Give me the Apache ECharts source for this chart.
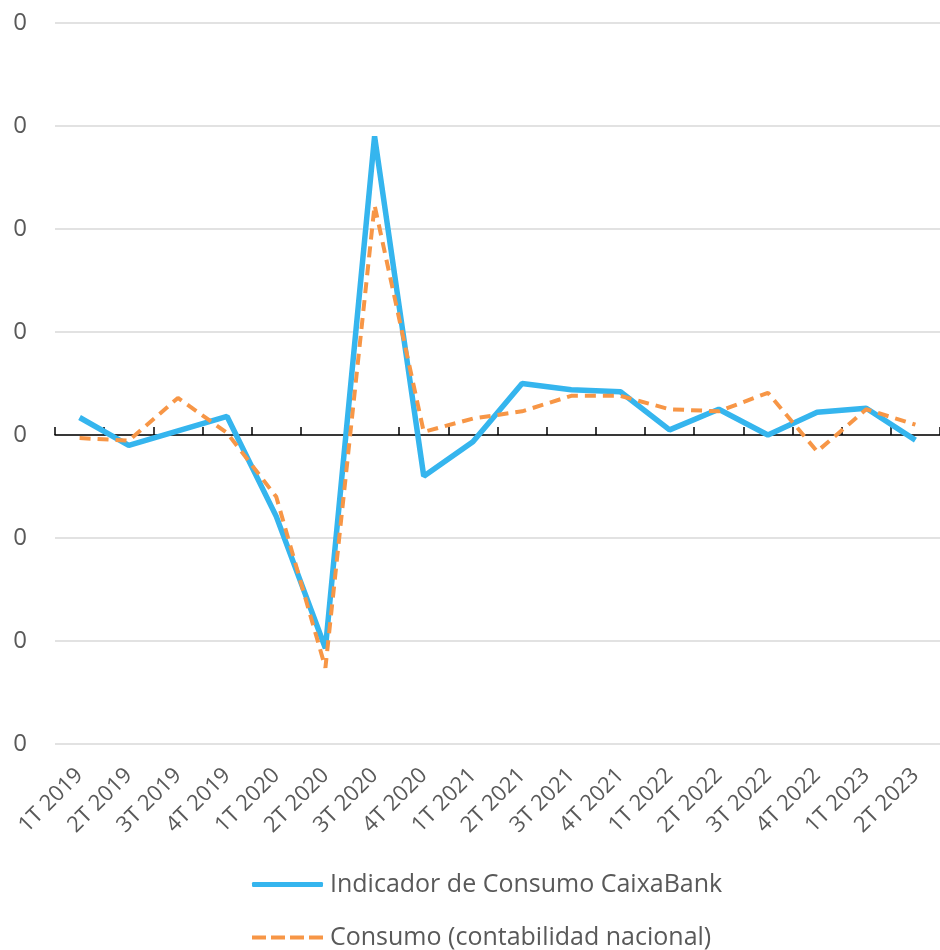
<!DOCTYPE html>
<html lang="es">
<head>
    <meta charset="UTF-8">
    <title>Indicador de Consumo CaixaBank</title>
    <script type="text/javascript" src="https://cdn.jsdelivr.net/npm/echarts@6/dist/echarts.min.js"></script>
    <style type="text/css">
        html, body { margin: 0; padding: 0; background: #fff; }
        #chart { width: 940px; height: 950px; }
    </style>
</head>
<body>
    <div id="chart"></div>
</body>
<script type="text/javascript">
    // trimestres
    var quarters = ['1T 2019', '2T 2019', '3T 2019', '4T 2019', '1T 2020', '2T 2020', '3T 2020', '4T 2020',
        '1T 2021', '2T 2021', '3T 2021', '4T 2021', '1T 2022', '2T 2022', '3T 2022', '4T 2022', '1T 2023', '2T 2023'];

    // variación intertrimestral
    var indicadorCaixa = [0.017, -0.010, 0.004, 0.018, -0.079, -0.207, 0.290, -0.040,
        -0.0065, 0.050, 0.044, 0.042, 0.005, 0.025, 0.000, 0.022, 0.026, -0.005];
    var consumoCN = [-0.003, -0.0055, 0.036, 0.002, -0.060, -0.226, 0.223, 0.003,
        0.016, 0.023, 0.038, 0.038, 0.025, 0.023, 0.041, -0.016, 0.025, 0.010];

    var seriesNames = ['Indicador de Consumo CaixaBank', 'Consumo (contabilidad nacional)'];

    var blue = '#35b5ee';
    var orange = '#f79646';

    var chart = echarts.init(document.getElementById('chart'));
    var font = '"Open Sans", sans-serif';

    var option = {
        animation: false,
        textStyle: { fontFamily: font },
        grid: { left: 55, right: -4, top: 23, bottom: 206 },
        legend: {
            orient: 'vertical',
            left: 252,
            top: 872,
            padding: 0,
            itemWidth: 71,
            itemHeight: 5,
            itemGap: 28,
            textStyle: { fontSize: 25, color: '#595959', fontFamily: font, padding: [0, 0, 0, 2] },
            data: [{
                name: seriesNames[0],
                icon: 'roundRect',
                itemStyle: { color: blue }
            }, {
                name: seriesNames[1],
                icon: 'path://M0,0h14v4h-14z M19,0h14v4h-14z M38,0h14v4h-14z M57,0h14v4h-14z',
                itemStyle: { color: orange }
            }]
        },
        xAxis: [{
            type: 'category',
            data: quarters,
            position: 'bottom',
            axisLine: { show: false, onZero: false },
            axisTick: { show: false },
            axisLabel: { rotate: 45, fontSize: 22, color: '#595959', margin: 28, interval: 0 }
        }, {
            type: 'category',
            data: quarters,
            position: 'bottom',
            axisLine: { show: true, onZero: true, lineStyle: { color: '#000', width: 1.5 } },
            axisTick: { show: true, inside: true, interval: 0, length: 8, lineStyle: { color: '#000', width: 1.5 } },
            axisLabel: { show: false }
        }],
        yAxis: {
            type: 'value',
            min: -0.3,
            max: 0.4,
            interval: 0.1,
            axisLine: { show: false },
            axisTick: { show: false },
            splitLine: { lineStyle: { color: '#d9d9d9', width: 1.5 } },
            axisLabel: {
                fontSize: 24, color: '#595959', margin: 28,
                formatter: function (v) { return String(Math.round(v)); }
            }
        },
        series: [{
            name: seriesNames[0],
            type: 'line',
            xAxisIndex: 0,
            data: indicadorCaixa,
            symbol: 'none',
            lineStyle: { color: blue, width: 5.5 },
            itemStyle: { color: blue },
            z: 3
        }, {
            name: seriesNames[1],
            type: 'line',
            xAxisIndex: 0,
            data: consumoCN,
            symbol: 'none',
            lineStyle: { color: orange, width: 4, type: [11, 7] },
            itemStyle: { color: orange },
            z: 4
        }]
    };
    chart.setOption(option);
</script>
</html>
